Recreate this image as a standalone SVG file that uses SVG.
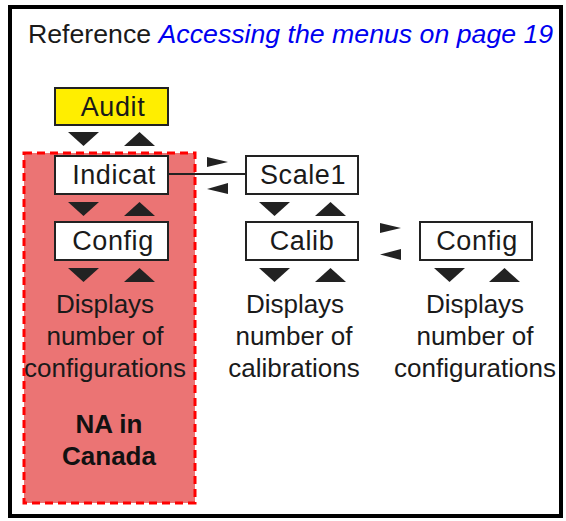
<svg xmlns="http://www.w3.org/2000/svg" width="566" height="521" viewBox="0 0 566 521">
  <style>
    text { font-family: "Liberation Sans", Arial, sans-serif; font-size: 26px; fill: #1a1a1a; }
    .heading { font-size: 26.7px; }
    .title-link { fill: #0000f0; font-style: italic; }
    .box { fill: #ffffff; stroke: #222222; stroke-width: 2; }
    .label { font-size: 27px; letter-spacing: 0.6px; }
    .tri { fill: #222222; }
    .bold { font-weight: bold; fill: #111111; }
    .mid { text-anchor: middle; }
  </style>
  <defs>
    <polygon id="down" class="tri" points="0,0 31,0 15.5,14"/>
    <polygon id="up" class="tri" points="0,14 31,14 15.5,0"/>
  </defs>

  <!-- frame -->
  <rect x="10" y="7" width="551" height="509" fill="#ffffff" stroke="#000000" stroke-width="4"/>

  <!-- heading -->
  <text class="heading" x="28" y="43">Reference <tspan class="title-link">Accessing the menus on page 19</tspan></text>

  <!-- region not available in Canada -->
  <g id="na-region">
    <rect x="24" y="153" width="171" height="350" fill="#eb7474" stroke="#ff0000" stroke-width="3" stroke-dasharray="8,5"/>
  </g>

  <!-- connectors -->
  <g id="connectors">
    <line x1="168" y1="174" x2="245" y2="174" stroke="#222222" stroke-width="2"/>
    <polygon class="tri" points="207,157 228,162 207,167"/>
    <polygon class="tri" points="228,183 207,189 228,194"/>
    <polygon class="tri" points="380,223 401,228 380,233"/>
    <polygon class="tri" points="401,249 380,254.5 401,260"/>
    <!-- up/down navigation -->
    <use href="#down" x="68" y="132"/>
    <use href="#up" x="124" y="132"/>
    <use href="#down" x="68" y="202"/>
    <use href="#up" x="124" y="202"/>
    <use href="#down" x="68" y="268"/>
    <use href="#up" x="124" y="268"/>
    <use href="#down" x="259" y="202"/>
    <use href="#up" x="315" y="202"/>
    <use href="#down" x="259" y="268"/>
    <use href="#up" x="315" y="268"/>
    <use href="#down" x="434" y="268"/>
    <use href="#up" x="489" y="268"/>
  </g>

  <g id="audit">
    <rect x="55" y="88" width="113" height="37" fill="#ffee00" stroke="#222222" stroke-width="2"/>
    <text class="mid label" x="113" y="116">Audit</text>
  </g>

  <g id="indicat">
    <rect class="box" x="55" y="156" width="113" height="38"/>
    <text class="mid label" x="114" y="184">Indicat</text>
  </g>

  <g id="config-left">
    <rect class="box" x="55" y="222" width="113" height="38"/>
    <text class="mid label" x="113" y="250">Config</text>
    <text class="mid" x="105" y="313">Displays</text>
    <text class="mid" x="105" y="345">number of</text>
    <text class="mid" x="105" y="377">configurations</text>
    <text class="mid bold" x="109" y="433">NA in</text>
    <text class="mid bold" x="109" y="465">Canada</text>
  </g>

  <g id="scale1">
    <rect class="box" x="246" y="156" width="112" height="38"/>
    <text class="mid label" x="303" y="184">Scale1</text>
  </g>

  <g id="calib">
    <rect class="box" x="246" y="222" width="112" height="38"/>
    <text class="mid label" x="302" y="250">Calib</text>
    <text class="mid" x="295" y="313">Displays</text>
    <text class="mid" x="294" y="345">number of</text>
    <text class="mid" x="294" y="377">calibrations</text>
  </g>

  <g id="config-right">
    <rect class="box" x="420" y="222" width="112" height="38"/>
    <text class="mid label" x="477" y="250">Config</text>
    <text class="mid" x="475" y="313">Displays</text>
    <text class="mid" x="475" y="345">number of</text>
    <text class="mid" x="475" y="377">configurations</text>
  </g>
</svg>
